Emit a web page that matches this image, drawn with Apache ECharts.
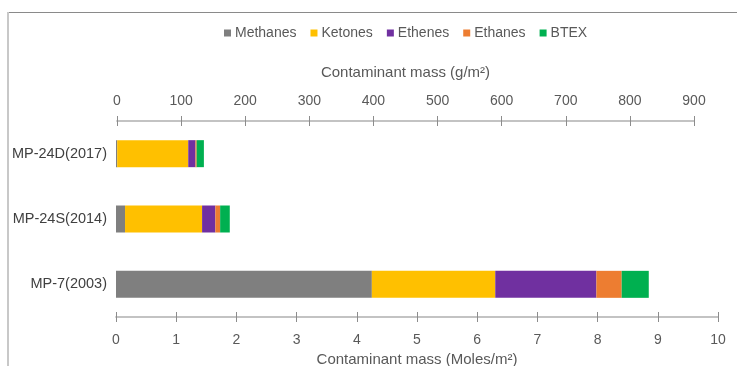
<!DOCTYPE html>
<html>
<head>
<meta charset="utf-8">
<script src="https://cdn.jsdelivr.net/npm/echarts@6/dist/echarts.min.js"></script>
<style>
  html, body { margin: 0; padding: 0; background: #fff; }
  #chart { width: 737px; height: 366px; }
</style>
</head>
<body>
<div id="chart"></div>
<script>
// Sampling wells (top to bottom)
const wells = ['MP-24D(2017)', 'MP-24S(2014)', 'MP-7(2003)'];

// Contaminant mass by compound group, Moles/m²
const methanes = [0.02, 0.15, 4.25];
const ketones  = [1.18, 1.28, 2.05];
const ethenes  = [0.12, 0.22, 1.68];
const ethanes  = [0.02, 0.08, 0.42];
const btex     = [0.12, 0.16, 0.45];

const seriesNames  = ['Methanes', 'Ketones', 'Ethenes', 'Ethanes', 'BTEX'];
const seriesValues = [methanes, ketones, ethenes, ethanes, btex];
const seriesColors = ['#7f7f7f', '#ffc000', '#7030a0', '#ed7d31', '#00b050'];

// Axis ranges
const molesMax = 10, molesStep = 1;
const gramsMax = 900, gramsStep = 100;

const FONT = '"Liberation Sans", Arial, sans-serif';
const TXT = '#595959';
const LINE = '#c0c0c0';
const TICK = '#8c8c8c';

const chart = echarts.init(document.getElementById('chart'), null, { renderer: 'canvas' });

// Plot rectangles: moles axis spans the bars' grid, grams axis is a little shorter
const molesRect = { left: 116, right: 19, top: 121, bottom: 49, containLabel: false, outerBoundsMode: 'none' };
const gramsRect = { left: 117, right: 43, top: 121, bottom: 49, containLabel: false, outerBoundsMode: 'none' };

// Each scale gets an outward-tick axis (with labels) and an inward-tick twin in
// its own overlapping grid, so the tick marks cross the axis line.
function scaleAxis(grid, pos, max, step, inside, name, nameGap, margin) {
  return {
    type: 'value', gridIndex: grid, position: pos, min: 0, max: max, interval: step,
    splitLine: { show: false },
    axisLine: { show: true, onZero: false, lineStyle: { color: LINE, width: 1.5 } },
    axisTick: { show: true, inside: inside, length: 5, lineStyle: { color: TICK } },
    axisLabel: { show: !inside, color: TXT, fontFamily: FONT, fontSize: 14, margin: margin },
    name: inside ? '' : name, nameLocation: 'middle', nameGap: nameGap,
    nameTextStyle: { color: TXT, fontFamily: FONT, fontSize: 15 }
  };
}

function hiddenY(grid) {
  return { type: 'category', gridIndex: grid, data: wells, inverse: true, show: false };
}

const option = {
  backgroundColor: '#fff',
  animation: false,
  legend: {
    top: 21, left: 219,
    itemWidth: 7, itemHeight: 7, itemGap: 14,
    icon: 'rect',
    textStyle: { color: TXT, fontFamily: FONT, fontSize: 14, padding: [0, 0, 0, -1] },
    data: seriesNames
  },
  grid: [
    Object.assign({}, molesRect),
    Object.assign({}, gramsRect),
    Object.assign({}, molesRect),
    Object.assign({}, gramsRect)
  ],
  xAxis: [
    scaleAxis(0, 'bottom', molesMax, molesStep, false, 'Contaminant mass (Moles/m²)', 34, 16),
    scaleAxis(1, 'top', gramsMax, gramsStep, false, 'Contaminant mass (g/m²)', 41, 13),
    scaleAxis(2, 'bottom', molesMax, molesStep, true, '', 0, 0),
    scaleAxis(3, 'top', gramsMax, gramsStep, true, '', 0, 0)
  ],
  yAxis: [
    {
      type: 'category', gridIndex: 0, data: wells, inverse: true,
      axisLine: { show: false }, axisTick: { show: false },
      axisLabel: { color: '#404040', fontFamily: FONT, fontSize: 14.5, margin: 9 }
    },
    hiddenY(1), hiddenY(2), hiddenY(3)
  ],
  series: seriesNames.map((n, i) => ({
    name: n, type: 'bar', stack: 'mass',
    xAxisIndex: 0, yAxisIndex: 0,
    barWidth: 27,
    itemStyle: { color: seriesColors[i] },
    data: seriesValues[i]
  })),
  graphic: [
    { type: 'line', shape: { x1: 7, y1: 12.5, x2: 737, y2: 12.5 }, style: { stroke: '#8a8a8a', lineWidth: 1 } },
    { type: 'line', shape: { x1: 8, y1: 12, x2: 8, y2: 366 }, style: { stroke: '#c8c8c8', lineWidth: 2 } }
  ]
};

chart.setOption(option);
</script>
</body>
</html>
